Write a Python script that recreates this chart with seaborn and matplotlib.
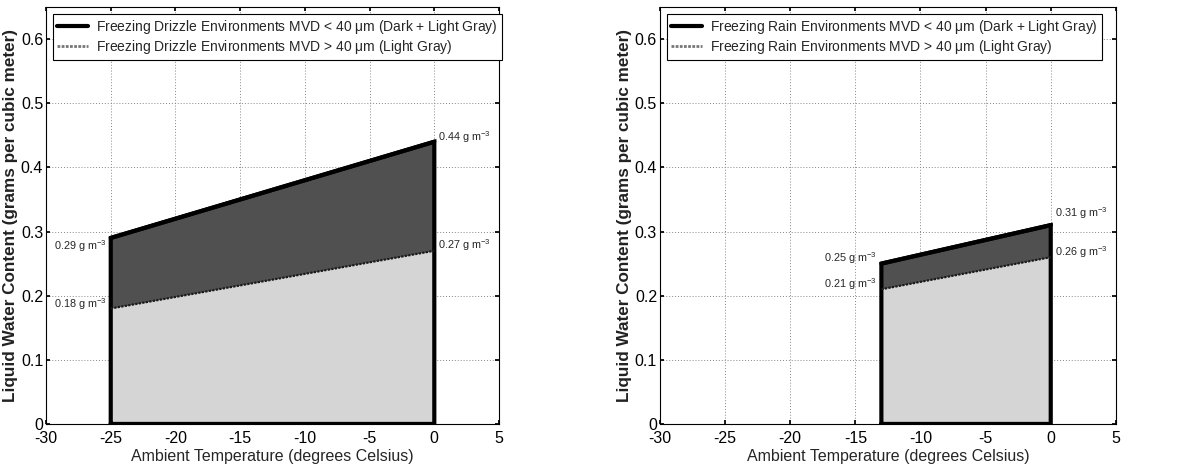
import numpy as np
import pandas as pd
import matplotlib
matplotlib.use("Agg")
import matplotlib.pyplot as plt
import seaborn as sns
from matplotlib.lines import Line2D

# ---- data ----
drizzle_temp = [-25, 0]
drizzle_upper = [0.29, 0.44]
drizzle_lower = [0.18, 0.27]

rain_temp = [-13, 0]
rain_upper = [0.25, 0.31]
rain_lower = [0.21, 0.26]

x_ticks = [-30, -25, -20, -15, -10, -5, 0, 5]
y_ticks = [0, 0.1, 0.2, 0.3, 0.4, 0.5, 0.6]

drizzle_labels = ["Freezing Drizzle Environments MVD < 40 $\\mathrm{\\mu}$m (Dark + Light Gray)",
                  "Freezing Drizzle Environments MVD > 40 $\\mathrm{\\mu}$m (Light Gray)"]
rain_labels = ["Freezing Rain Environments MVD < 40 $\\mathrm{\\mu}$m (Dark + Light Gray)",
               "Freezing Rain Environments MVD > 40 $\\mathrm{\\mu}$m (Light Gray)"]

main_font = 'Liberation Sans'
sns.set_theme(style="white")
plt.rcParams['font.family'] = [main_font, 'DejaVu Sans']
plt.rcParams['mathtext.fontset'] = 'custom'
plt.rcParams['mathtext.rm'] = main_font
plt.rcParams['mathtext.it'] = main_font + ':italic'

fig = plt.figure(figsize=(11.89, 4.70), dpi=100)
ax1 = fig.add_axes([0.0387, 0.098, 0.381, 0.887])
ax2 = fig.add_axes([0.555, 0.098, 0.3835, 0.887])

DARK = "#505050"
LIGHT = "#d5d5d5"

def panel(ax, temp, upper, lower, labels, offs):
    df = pd.DataFrame({"T": temp, "upper": upper, "lower": lower})
    ax.fill_between(df["T"], df["lower"], df["upper"], color=DARK, lw=0, zorder=2)
    ax.fill_between(df["T"], 0, df["lower"], color=LIGHT, lw=0, zorder=2)
    poly_x = [temp[0], temp[0], temp[1], temp[1], temp[0]]
    poly_y = [0, upper[0], upper[1], 0, 0]
    ax.plot(poly_x, poly_y, color="black", lw=3, zorder=4, solid_joinstyle="miter")
    sns.lineplot(data=df, x="T", y="upper", ax=ax, color="black", lw=3, zorder=5)
    sns.lineplot(data=df, x="T", y="lower", ax=ax, color="#1a1a1a", lw=1.6,
                 linestyle=(0, (1, 0.6)), zorder=5)

    ax.set_xlim(-30, 5)
    ax.set_ylim(0, 0.65)
    ax.set_xticks(x_ticks)
    ax.set_xticklabels([str(t) for t in x_ticks])
    ax.set_yticks(y_ticks)
    ax.set_yticklabels(["0", "0.1", "0.2", "0.3", "0.4", "0.5", "0.6"])
    ax.tick_params(axis="both", labelsize=11.5, direction="in", length=3,
                   colors="black", top=True, right=True, bottom=True, left=True)
    ax.tick_params(axis="x", pad=5)
    ax.tick_params(axis="y", pad=2)
    ax.grid(True, color="#888888", linestyle=(0, (1, 2)), lw=0.7, zorder=0)
    for s in ax.spines.values():
        s.set_color("black")
        s.set_linewidth(0.8)
    ax.set_xlabel("Ambient Temperature (degrees Celsius)", fontsize=11.5, labelpad=2)
    ax.set_ylabel("Liquid Water Content (grams per cubic meter)", fontsize=12.3,
                  fontweight="bold", labelpad=2, color="#222222")

    handles = [Line2D([], [], color="black", lw=3),
               Line2D([], [], color="#777777", lw=2, linestyle=(0, (1, 0.5)))]
    leg = ax.legend(handles, labels, loc="upper left", fontsize=10, frameon=True,
                    fancybox=False, edgecolor="black", framealpha=1,
                    borderaxespad=0.5, handlelength=2.2, handletextpad=0.6,
                    borderpad=0.3, labelspacing=0.15)
    leg.get_frame().set_linewidth(0.8)

    fs = 7.8
    pts = [(temp[1], upper[1]), (temp[1], lower[1]), (temp[0], upper[0]), (temp[0], lower[0])]
    vals = [upper[1], lower[1], upper[0], lower[0]]
    has = ["left", "left", "right", "right"]
    for (px, py), v, ha, off in zip(pts, vals, has, offs):
        ax.annotate(f"{v:.2f} g m$^{{-3}}$", (px, py), xytext=off,
                    textcoords="offset points", fontsize=fs, ha=ha, va="center")

panel(ax1, drizzle_temp, drizzle_upper, drizzle_lower, drizzle_labels,
      [(3, 3), (3, 4), (-3, -6), (-3, 3)])
panel(ax2, rain_temp, rain_upper, rain_lower, rain_labels,
      [(3, 9), (3, 4), (-3, 4), (-3, 4)])

fig.savefig("out.png", dpi=100)
